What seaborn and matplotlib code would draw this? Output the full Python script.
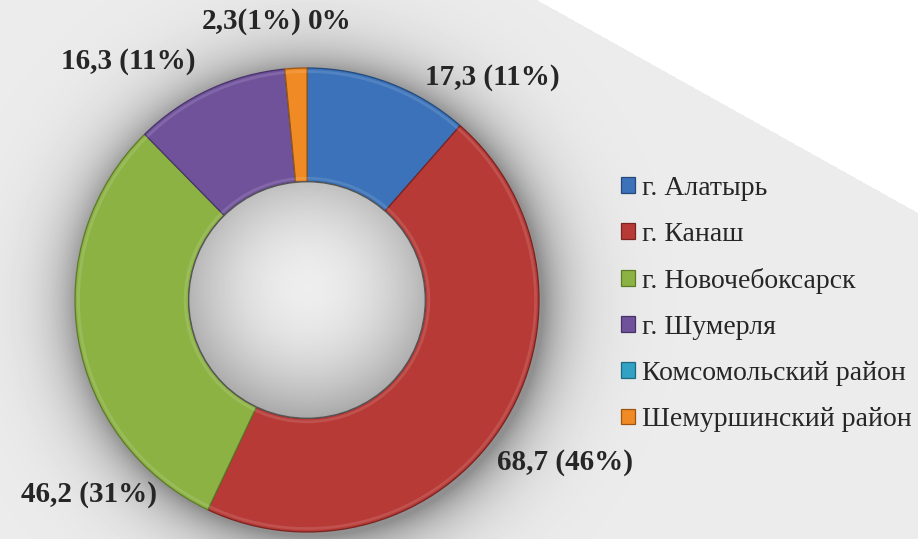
import numpy as np
import matplotlib
matplotlib.use("Agg")
import matplotlib.pyplot as plt
import seaborn as sns
from matplotlib.patches import Circle

# data
districts = ["г. Алатырь", "г. Канаш", "г. Новочебоксарск", "г. Шумерля",
             "Комсомольский район", "Шемуршинский район"]
values = [17.3, 68.7, 46.2, 16.3, 0.0, 2.3]
value_labels = ["17,3 (11%)", "68,7 (46%)", "46,2 (31%)", "16,3 (11%)", "0%", "2,3(1%)"]
colors = ["#3b72b9", "#b73a36", "#8cb244", "#70529b", "#31a2c3", "#f08a24"]
edge_colors = ["#24497a", "#7a2321", "#5c7a28", "#473268", "#1d6a80", "#9c5410"]

# label positions, in units of the pie radius (layout only)
label_xy = [(0.80, 0.96), (1.11, -0.70), (-0.94, -0.84), (-0.77, 1.03), (0.10, 1.20), (-0.24, 1.20)]

sns.set_theme(style="white")
plt.rcParams['font.family'] = ['Liberation Serif', 'DejaVu Serif']

W, H = 918, 539
cx, cy, R = 307, 300, 232
fig = plt.figure(figsize=(W / 100, H / 100), dpi=100)

# background: grey panel, soft shadow round the ring, white corner
bg = fig.add_axes([0, 0, 1, 1])
bg.axis("off")
yy, xx = np.mgrid[0:H, 0:W] + 0.5
r = np.hypot(xx - cx - 4, yy - cy - 4)
d = np.clip(r - R, 0, None)
shade = 0.925 - 0.36 * np.exp(-d / 28)
shade[yy < (xx - 537) * 213 / 381] = 1.0
bg.imshow(shade, cmap="gray", vmin=0, vmax=1, extent=(0, W, H, 0),
          aspect="auto", interpolation="bilinear")
bg.set_xlim(0, W)
bg.set_ylim(H, 0)

# donut
ax = fig.add_axes([(cx - R) / W, (H - cy - R) / H, 2 * R / W, 2 * R / H])
wedges, _ = ax.pie(values, colors=colors, startangle=90, counterclock=False,
                   wedgeprops=dict(width=0.49, linewidth=0.9))
for w, ec in zip(wedges, edge_colors):
    w.set_edgecolor(ec)

# soft bevel: light rim just inside the outer and inner edges
ax.add_patch(Circle((0, 0), 0.985, fill=False, edgecolor="white", linewidth=2, alpha=0.12, zorder=2))
ax.add_patch(Circle((0, 0), 0.525, fill=False, edgecolor="white", linewidth=2, alpha=0.12, zorder=2))

# hole with radial grey gradient
hy, hx = np.mgrid[-1:1:200j, -1:1:200j]
hole = 0.93 - 0.22 * (hx ** 2 + (hy + 0.1) ** 2)
im = ax.imshow(hole, cmap="gray", vmin=0, vmax=1, extent=(-0.51, 0.51, -0.51, 0.51),
               interpolation="bilinear", zorder=3)
im.set_clip_path(Circle((0, 0), 0.51, transform=ax.transData))
ax.add_patch(Circle((0, 0), 0.51, fill=False, edgecolor="#555555", linewidth=1, zorder=4))
ax.set_xlim(-1, 1)
ax.set_ylim(-1, 1)
ax.axis("off")

for (lx, ly), lab in zip(label_xy, value_labels):
    ax.text(lx, ly, lab, ha="center", va="center", fontsize=21, fontweight="bold",
            clip_on=False)

fig.legend(wedges, districts, loc="center left", bbox_to_anchor=(621 / W, 1 - 304 / H),
           frameon=False, fontsize=20, handlelength=0.5, handleheight=0.5,
           handletextpad=0.25, labelspacing=0.76, borderpad=0, borderaxespad=0)

fig.savefig("out.png", dpi=100)
